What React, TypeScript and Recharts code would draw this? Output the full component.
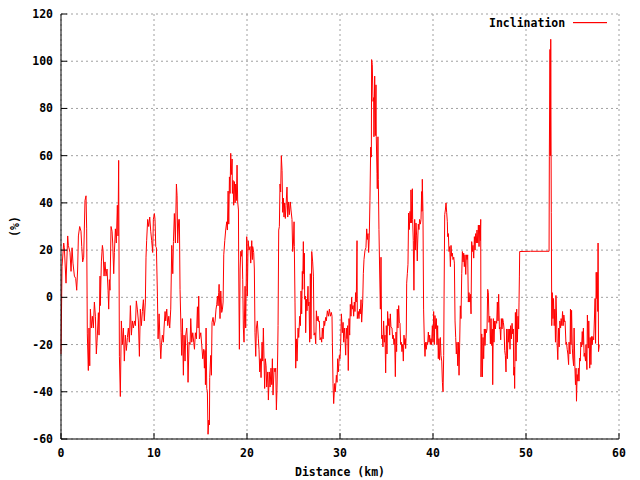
import { LineChart, Line, XAxis, YAxis, CartesianGrid, Legend } from "recharts";

// distance (km) / inclination (%), in stretches of ~10 km
const KM_A = [
  0, 0.11, 0.29, 0.36, 0.54, 0.72, 0.79, 0.97, 1.08, 1.19,
  1.29, 1.44, 1.58, 1.69, 1.79, 1.87, 2.01, 2.15, 2.23, 2.33,
  2.44, 2.58, 2.69, 2.76, 2.83, 2.94, 3.01, 3.09, 3.16, 3.27,
  3.37, 3.48, 3.59, 3.7, 3.8, 3.91, 4.02, 4.09, 4.2, 4.23,
  4.34, 4.45, 4.52, 4.63, 4.73, 4.84, 4.95, 5.06, 5.13, 5.2,
  5.27, 5.38, 5.49, 5.56, 5.67, 5.74, 5.85, 5.95, 6.06, 6.13,
  6.2, 6.28, 6.38, 6.49, 6.6, 6.71, 6.81, 6.92, 7.03, 7.14,
  7.24, 7.35, 7.46, 7.57, 7.67, 7.78, 7.89, 8.0, 8.1, 8.21,
  8.32, 8.43, 8.53, 8.64, 8.75, 8.86, 8.96, 9.07, 9.14, 9.21,
  9.32, 9.43, 9.54, 9.65, 9.75, 9.86, 9.93, 10.04, 10.11, 10.19,
];
const PCT_A = [
  -24, 13, 23, 21, 6, 26, 22, 19, 11, 21,
  14.5, 9, 8, 3, 12, 26, 30, 28, 21.5, 15,
  17, 41, 43, 29, -15.5, -31, -13, -29, -5, -13,
  -8, -13, -2, -8, -24, -16, -6.5, -16, 9, -3.5,
  15, 22, 20, 9, 15, 9, 12, 3, -5, 7.5,
  3, 30, 28, 23, 10, 19, 29, 23, 39, 26,
  58, -25, -42, -10, -20, -13, -27, -16, -22.5, -17,
  -13, -19, -3.5, -16, -10, -13, -10, -12, -1.5, -5,
  -10, -25, -5, -12, -6, -1, -10, -2, 17, 24,
  33, 30, 34, 28, 24, 19, 33, 35.5, 33, 21.5,
];

const KM_B = [
  10.26, 10.37, 10.44, 10.55, 10.65, 10.73, 10.8, 10.9, 11.01, 11.08,
  11.19, 11.26, 11.37, 11.48, 11.59, 11.69, 11.8, 11.91, 12.02, 12.09,
  12.19, 12.3, 12.41, 12.48, 12.55, 12.66, 12.73, 12.8, 12.91, 12.98,
  13.05, 13.16, 13.23, 13.34, 13.41, 13.52, 13.59, 13.66, 13.77, 13.88,
  13.95, 14.06, 14.17, 14.27, 14.35, 14.45, 14.56, 14.67, 14.74, 14.81,
  14.88, 15.03, 15.13, 15.24, 15.35, 15.42, 15.49, 15.53, 15.6, 15.67,
  15.74, 15.81, 15.89, 15.96, 15.99, 16.1, 16.17, 16.24, 16.35, 16.46,
  16.57, 16.67, 16.75, 16.82, 16.89, 16.96, 17.0, 17.1, 17.18, 17.28,
  17.36, 17.43, 17.5, 17.61, 17.71, 17.82, 17.89, 17.97, 18.04, 18.11,
  18.18, 18.25, 18.32, 18.4, 18.43, 18.5, 18.57, 18.65, 18.72, 18.79,
  18.86, 18.93, 19.0, 19.08, 19.11, 19.18, 19.26, 19.33, 19.4, 19.47,
  19.54, 19.61, 19.68, 19.79, 19.86, 19.97, 20.04, 20.12, 20.22, 20.33,
  20.4, 20.51, 20.58,
];
const PCT_B = [
  21, 0.5, -17.6, -7, -19, -26, -20, -16, -19, -13,
  -6, -10, -5, -12, -8, -13, -5, 22, 10, 23.6,
  35.5, 23, 48, 43, 23, 33, 33, 3.4, -15, -24.6,
  -9, -33, -16, -27, -16, -13, -19, -36, -19, -20,
  -9, -19, -15, -19, -22, -15, -17.6, -4, -13, 0.5,
  -17.6, -15, -20, -26, -22, -30, -22.5, -37, -13, -38.6,
  -40, -58, -52, -54, -34, -24.6, -33, -10.6, -8.5, -12,
  -10, -5, -3, 0.5, -3.6, 2, 5.5, -9, 2.7, -6.4,
  -5, -2, 18, 24, 28.5, 32, 28.5, 45, 31, 51,
  44, 61, 52, 58.6, 44, 49.5, 39, 49, 40, 48,
  41, 56, 40.4, 37, 12, -22, 12, 19.5, 17.4, 20,
  7.5, -13, -19, 4.7, -13, 25.7, 0.5, 24, 20, 21.5,
  14.5, 24, 16,
];

const KM_C = [
  20.61, 20.72, 20.79, 20.86, 20.94, 21.01, 21.11, 21.22, 21.29, 21.37,
  21.44, 21.51, 21.62, 21.69, 21.76, 21.83, 21.9, 21.97, 22.05, 22.12,
  22.23, 22.3, 22.4, 22.48, 22.58, 22.66, 22.73, 22.8, 22.91, 23.01,
  23.09, 23.16, 23.23, 23.3, 23.34, 23.41, 23.48, 23.55, 23.62, 23.69,
  23.77, 23.84, 23.91, 23.98, 24.05, 24.12, 24.2, 24.3, 24.38, 24.48,
  24.55, 24.66, 24.73, 24.84, 24.91, 24.99, 25.06, 25.09, 25.16, 25.24,
  25.31, 25.38, 25.49, 25.56, 25.67, 25.74, 25.81, 25.88, 25.95, 25.99,
  26.06, 26.1, 26.17, 26.2, 26.28, 26.31, 26.38, 26.45, 26.56, 26.6,
  26.67, 26.74, 26.81, 26.88, 26.96, 27.06, 27.14, 27.21, 27.31, 27.39,
  27.46, 27.53, 27.64, 27.71, 27.78, 27.85, 27.96, 28.03, 28.1, 28.18,
  28.28, 28.35, 28.46, 28.53, 28.64, 28.75, 28.86, 28.96, 29.07, 29.14,
  29.18, 29.25, 29.32, 29.43, 29.5, 29.61, 29.68, 29.75, 29.82, 29.93,
  30.0, 30.07, 30.15, 30.25, 30.33, 30.4, 30.47,
];
const PCT_C = [
  21.5, 19, 12, -15, -25, -13, -10, -17.6, -22, -31.6,
  -26, -34, -19, -27, -13, -26, -38.6, -26, -29, -38,
  -31.6, -43.5, -31.6, -38, -30, -37, -26, -41.4, -30, -31.6,
  -30, -47.7, -38, -24, -12, 28.5, 30, 48, 44.6, 60,
  53.7, 36, 42, 34, 40, 33.4, 39, 46.7, 34, 40.4,
  35, 40.4, 37, 33, 19.4, 23, 32, 21.5, -2, -30,
  -17.6, -27, -13, -17, -8, -12, 2.7, -7, 11, 3.4,
  23.6, 10, 18.7, -0.8, 0.5, -15, -0.8, -5.7, 4.7, -3.6,
  -2, -19, 10, -17.6, 19.4, 15, 9, -16, -15, -19.7,
  -5.7, -10, -8, -10.3, -10, -18, -17, -19, -13, -17.6,
  -10, -12, -8.5, -10, -5.7, -8, -5, -8, -6.4, -8,
  -19, -36.5, -45, -36.5, -40, -33, -36, -26, -31.6, -24.6,
  -26, -20, -7, -15, -10.6, -19, -13,
];

const KM_D = [
  30.54, 30.61, 30.68, 30.75, 30.82, 30.89, 30.97, 31.04, 31.11, 31.18,
  31.25, 31.32, 31.4, 31.47, 31.54, 31.61, 31.68, 31.75, 31.83, 31.86,
  31.97, 32.04, 32.11, 32.18, 32.26, 32.33, 32.44, 32.51, 32.58, 32.69,
  32.79, 32.87, 32.94, 33.01, 33.08, 33.15, 33.22, 33.3, 33.37, 33.4,
  33.47, 33.55, 33.62, 33.65, 33.73, 33.8, 33.87, 33.9, 33.98, 34.01,
  34.08, 34.12, 34.19, 34.26, 34.34, 34.41, 34.48, 34.55, 34.62, 34.69,
  34.77, 34.84, 34.91, 34.98, 35.05, 35.12, 35.2, 35.27, 35.34, 35.41,
  35.48, 35.59, 35.66, 35.73, 35.8, 35.88, 35.95, 36.02, 36.09, 36.16,
  36.23, 36.31, 36.38, 36.45, 36.52, 36.59, 36.66, 36.74, 36.81, 36.88,
  36.95, 37.02, 37.06, 37.13, 37.17, 37.24, 37.31, 37.38, 37.45, 37.53,
  37.6, 37.63, 37.7, 37.78, 37.81, 37.88, 37.95, 38.03, 38.1, 38.17,
  38.24, 38.31, 38.35, 38.42, 38.49, 38.56, 38.64, 38.71, 38.78, 38.82,
  38.85, 38.92, 38.99, 39.07, 39.14, 39.21, 39.28, 39.35, 39.42, 39.5,
  39.57, 39.64, 39.71, 39.78, 39.85, 39.93, 40.0, 40.07, 40.14, 40.21,
  40.28, 40.36, 40.43, 40.5, 40.57, 40.64, 40.71,
];
const PCT_D = [
  -17.5, -24.5, -13, -17.5, -12, -31, -9, -16, -3, -8,
  0, -5, -3.5, -8, -2, -6, 2, -2, 24, -9,
  -6, -9, -5, -7, -1, -10.5, -2, 10, 16, 20,
  21, 29, 24.5, 27, 19, 26, 41, 63.6, 59.4, 100.7,
  98.6, 83, 84.6, 68, 93.7, 68.5, 90, 68, 52.5, 46,
  68, 50, 28.7, 12, -5, 17, -17.5, -16, -21, -10,
  -19, -16, -32, -12, -24, -6, -12, -9, -16, -7,
  -12.6, -13, -17.5, -16, -20, -17.5, -33.6, -14.7, -23, -5,
  -13, -3.5, -10.5, -11, -20, -19, -23, -20, -27, -16,
  -20, -17.5, -21.7, -14.7, 6, 10, 14, 35.7, 28.7, 36.4,
  31.5, 45.5, 31.5, 46, 33, 24, 3, 33, 20, 31.5,
  26, 15.4, 23, 31, 28.7, 33, 31, 33, 44.8, 36.4,
  50, 36.4, -5, -19, -25, -19, -22, -19, -20, -14.7,
  -19, -16, -20, -17.5, -20, -12, -19, -6, -20, -7.7,
  -13.3, -9, -20, -12, -26, -17.5, -26.6,
];

const KM_E = [
  40.79, 40.86, 40.94, 41.01, 41.08, 41.15, 41.19, 41.26, 41.33, 41.4,
  41.47, 41.54, 41.58, 41.65, 41.72, 41.8, 41.87, 41.94, 42.01, 42.08,
  42.15, 42.23, 42.3, 42.37, 42.44, 42.51, 42.58, 42.66, 42.73, 42.8,
  42.87, 42.94, 43.01, 43.09, 43.16, 43.23, 43.3, 43.37, 43.44, 43.52,
  43.59, 43.66, 43.73, 43.8, 43.87, 43.95, 44.02, 44.09, 44.16, 44.23,
  44.3, 44.38, 44.45, 44.52, 44.59, 44.66, 44.73, 44.81, 44.88, 44.95,
  45.02, 45.09, 45.13, 45.16, 45.24, 45.31, 45.38, 45.45, 45.52, 45.59,
  45.67, 45.74, 45.81, 45.88, 45.95, 46.02, 46.1, 46.17, 46.24, 46.31,
  46.38, 46.42, 46.49, 46.56, 46.63, 46.71, 46.78, 46.85, 46.92, 46.99,
  47.06, 47.14, 47.21, 47.28, 47.35, 47.42, 47.49, 47.57, 47.64, 47.71,
  47.78, 47.85, 47.92, 48.0, 48.07, 48.14, 48.21, 48.28, 48.35, 48.43,
  48.5, 48.57, 48.64, 48.68, 48.75, 48.78, 48.86, 48.93, 49.0, 49.07,
  49.14, 49.21, 49.25, 49.29, 49.32, 50.5, 51.5, 52.48,
];
const PCT_E = [
  -17, -24.6, -27, -36, -40, -24.6, 0.5, 35, 37, 40,
  36, 32, 25.7, 27, 19.4, 21.5, 13, 22, 17.4, 18.7,
  16, 17, 14.5, -10, -17, -24, -19, -29, -19, -33,
  -19, -3.6, -9, 10, 19.4, 15, 18.7, 13, 18, 9.7,
  18, 16, 18, -2, 2, -2, 1.3, -7, 23.6, 19.4,
  22, 16.6, 25.7, 20, 27, 23, 28.5, 23, 30.6, 21.5,
  30.6, 24, 33, -33.7, -15.5, -33.7, -17, -26, -13.4, -20.4,
  -13.4, -15, -13.4, 3.4, 2, -10.6, -8, -19.7, -9, -20.4,
  -13.4, -37, -9, -19, -10, -13.4, -10, -11, -2, -10,
  1.3, -13.4, -12.7, -18, -9, -13.4, -9, -10.6, -13.4, -22.5,
  -24.6, -31.6, -13.4, -26, -13.4, -19, -13.4, -22, -12, -17.6,
  -11, -15.5, -13.4, -33, -29.5, -38.6, -6.4, -27, -5, -19,
  -8, -13.4, -2, 9, 19.4, 19.5, 19.5, 19.5,
];

const KM_F = [
  52.51, 52.58, 52.62, 52.66, 52.72, 52.77, 52.82, 52.9, 52.96, 53.03,
  53.1, 53.17, 53.22, 53.28, 53.34, 53.42, 53.5, 53.57, 53.64, 53.72,
  53.78, 53.86, 53.93, 54.0, 54.07, 54.14, 54.2, 54.3, 54.35, 54.43,
  54.5, 54.58, 54.63, 54.73, 54.78, 54.84, 54.9, 54.98, 55.04, 55.12,
  55.17, 55.26, 55.32, 55.38, 55.43, 55.5, 55.57, 55.63, 55.7, 55.77,
  55.84, 55.9, 55.98, 56.05, 56.12, 56.17, 56.25, 56.3, 56.4, 56.45,
  56.55, 56.6, 56.7, 56.75, 56.85, 56.9, 56.98, 57.04, 57.12, 57.18,
  57.28, 57.43, 57.48, 57.55, 57.6, 57.65, 57.72, 57.75, 57.8, 57.88,
];
const PCT_F = [
  59.6, 105, 60, 109.3, 36, -12, 2, -9, -0.5, -12,
  -5, -19, 0.8, -7.5, -19, -26.4, -13, -21, -10, -13,
  -9, -12, -6, -12, -7.5, -10.3, -10, -20, -19, -22,
  -24, -28.5, -19, -24, -5, -20, -5.5, -21.5, -25.7, -29,
  -13, -30, -37, -30, -44, -32.7, -35.5, -30, -35.5, -25.7,
  -27, -19, -21, -14.5, -20, -13, -25, -23.6, -27, -20,
  -30.6, -7.5, -21.5, -10, -30, -17, -28.5, -16.6, -20, -16.6,
  -18, -0.5, -19.5, 10.6, -0.5, 10.6, -6, 23, -23, -20,
];

const X_TICKS = [0, 10, 20, 30, 40, 50, 60];
const Y_TICKS = [-60, -40, -20, 0, 20, 40, 60, 80, 100, 120];

const SECTIONS: [number[], number[]][] = [
  [KM_A, PCT_A],
  [KM_B, PCT_B],
  [KM_C, PCT_C],
  [KM_D, PCT_D],
  [KM_E, PCT_E],
  [KM_F, PCT_F],
];

const badSection = SECTIONS.findIndex(([k, p]) => k.length !== p.length);

const data = SECTIONS.flatMap(([km, pct]) =>
  km.map((d, i) => ({ km: d, pct: pct[i] }))
);

const FONT = {
  fontFamily: "'DejaVu Sans Mono', monospace",
  fontSize: 11.5,
  fontWeight: 700,
};

// gnuplot style: ticks point inwards, labels outside
function BottomTick({ x, y, payload }: any) {
  return (
    <g>
      <line x1={x} y1={y} x2={x} y2={y - 6} stroke="#000" />
      <text x={x} y={y + 18} textAnchor="middle" fill="#000" style={FONT}>
        {payload.value}
      </text>
    </g>
  );
}

function LeftTick({ x, y, payload }: any) {
  return (
    <g>
      <line x1={x} y1={y} x2={x + 6} y2={y} stroke="#000" />
      <text x={x - 8} y={y + 4} textAnchor="end" fill="#000" style={FONT}>
        {payload.value}
      </text>
    </g>
  );
}

function TopTick({ x, y }: any) {
  return <line x1={x} y1={y} x2={x} y2={y + 6} stroke="#000" />;
}

function RightTick({ x, y }: any) {
  return <line x1={x} y1={y} x2={x - 6} y2={y} stroke="#000" />;
}

function LegendBox() {
  return (
    <div style={{ display: "flex", alignItems: "center", color: "#000", ...FONT }}>
      <span>Inclination</span>
      <svg width={34} height={4} style={{ marginLeft: 8, display: "block" }}>
        <rect x={0} y={1} width={34} height={1.2} fill="#ff0000" />
      </svg>
    </div>
  );
}

export default function App() {
  if (badSection >= 0) {
    return <div>section {badSection} length mismatch</div>;
  }
  return (
    <div style={{ position: "absolute", left: 0, top: 0, width: 640, height: 480, background: "#fff" }}>
      <LineChart
        width={640}
        height={480}
        data={data}
        margin={{ top: 14, right: 21, bottom: 0, left: 0 }}
      >
        <CartesianGrid stroke="#a0a0a0" strokeDasharray="2 3" />
        <XAxis
          dataKey="km"
          type="number"
          domain={[0, 60]}
          ticks={X_TICKS}
          interval={0}
          height={41}
          tickSize={0}
          tickMargin={0}
          tickLine={false}
          axisLine={{ stroke: "#000" }}
          tick={<BottomTick />}
          label={{ value: "Distance (km)", position: "insideBottom", offset: 4, fill: "#000", style: FONT }}
        />
        <XAxis
          xAxisId="top"
          orientation="top"
          dataKey="km"
          type="number"
          domain={[0, 60]}
          ticks={X_TICKS}
          interval={0}
          height={0}
          tickSize={0}
          tickMargin={0}
          tickLine={false}
          axisLine={{ stroke: "#000" }}
          tick={<TopTick />}
        />
        <YAxis
          type="number"
          domain={[-60, 120]}
          ticks={Y_TICKS}
          interval={0}
          width={61}
          tickSize={0}
          tickMargin={0}
          tickLine={false}
          axisLine={{ stroke: "#000" }}
          tick={<LeftTick />}
          label={{ value: "(%)", angle: -90, position: "insideLeft", offset: 15, fill: "#000", style: { ...FONT, textAnchor: "middle" } }}
        />
        <YAxis
          yAxisId="right"
          orientation="right"
          type="number"
          domain={[-60, 120]}
          ticks={Y_TICKS}
          interval={0}
          width={0}
          tickSize={0}
          tickMargin={0}
          tickLine={false}
          axisLine={{ stroke: "#000" }}
          tick={<RightTick />}
        />
        <Legend
          layout="horizontal"
          verticalAlign="middle"
          align="center"
          wrapperStyle={{ left: 489, top: 16, width: 130 }}
          content={() => <LegendBox />}
        />
        <Line
          type="linear"
          dataKey="pct"
          stroke="#ff0000"
          strokeWidth={1}
          dot={false}
          activeDot={false}
          isAnimationActive={false}
        />
      </LineChart>
    </div>
  );
}
